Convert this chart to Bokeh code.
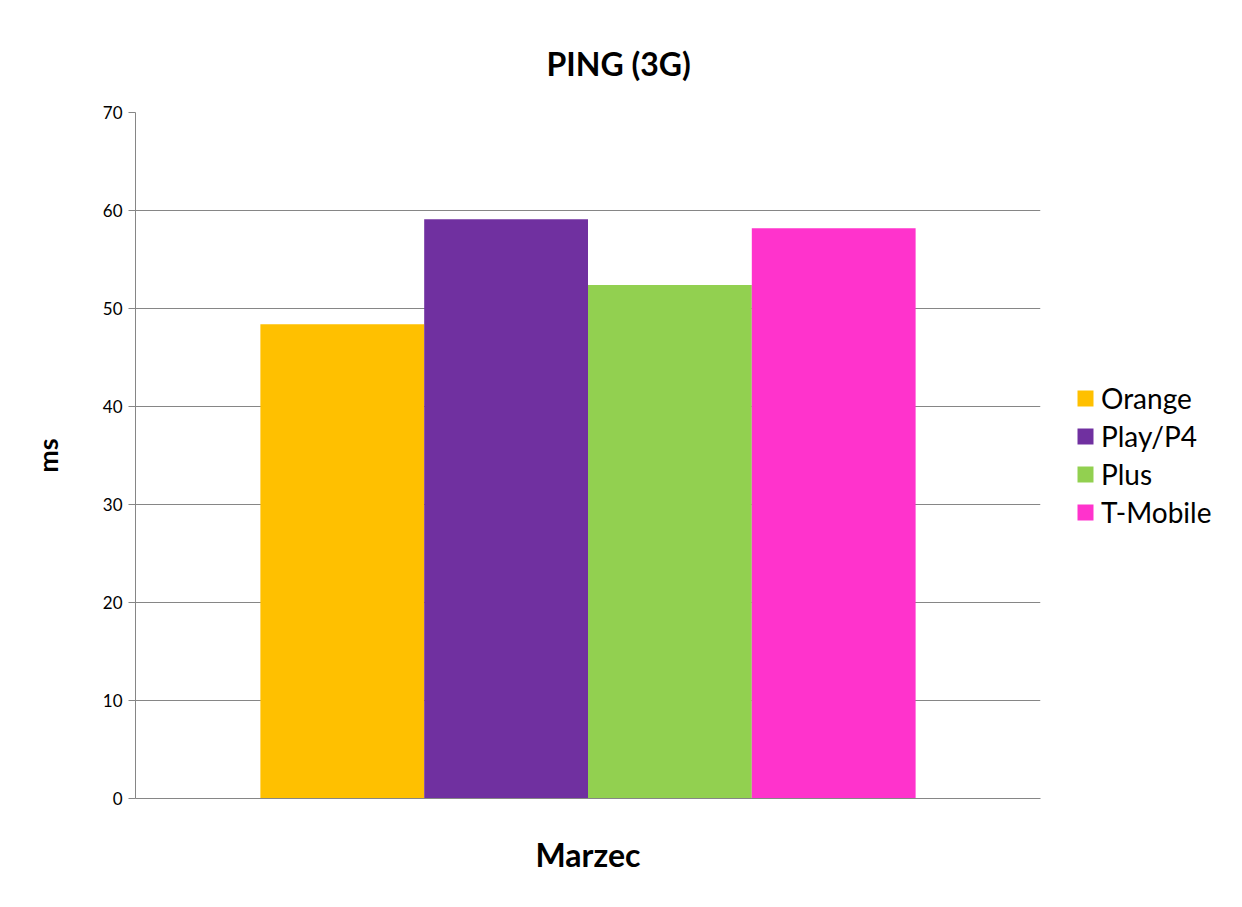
from bokeh.plotting import figure
from bokeh.models import ColumnDataSource, FactorRange, Range1d, Legend, LegendItem, SingleIntervalTicker, Title
from bokeh.transform import dodge
from bokeh.embed import file_html
from bokeh.resources import INLINE

months = ["Marzec"]
operators = ["Orange", "Play/P4", "Plus", "T-Mobile"]
orange = [48.4]
play = [59.1]
plus = [52.4]
tmobile = [58.2]
colors = ["#FFC000", "#7030A0", "#92D050", "#FF33CC"]
series = [orange, play, plus, tmobile]

FONT = "Lato"

p = figure(x_range=FactorRange(factors=months), y_range=Range1d(0, 70),
           frame_width=905, frame_height=686, width=1226, height=890,
           output_backend="svg", toolbar_location=None,
           min_border_left=135, min_border_top=112, min_border_bottom=60, min_border_right=40)
p.outline_line_color = None
p.background_fill_color = "white"

bw = 0.181
offsets = [-1.5 * bw, -0.5 * bw, 0.5 * bw, 1.5 * bw]
items = []
for name, vals, col, off in zip(operators, series, colors, offsets):
    src = ColumnDataSource(dict(x=months, top=vals))
    r = p.vbar(x=dodge("x", off, range=p.x_range), top="top", width=bw, source=src,
               fill_color=col, line_color=None)
    items.append(LegendItem(label=name, renderers=[r]))

legend = Legend(items=items, location="left", border_line_color=None,
                background_fill_alpha=0, label_text_font=FONT,
                label_text_font_size="28px", label_text_color="black",
                glyph_width=20, glyph_height=20,
                spacing=4, margin=35, padding=10, label_standoff=6)
p.add_layout(legend, "right")

title = Title(text="PING (3G)", align="left", offset=411, text_font=FONT,
              text_font_size="32px", text_font_style="bold", text_color="black",
              standoff=59)
p.add_layout(title, "above")

# y axis
p.yaxis.ticker = SingleIntervalTicker(interval=10)
p.yaxis.axis_line_color = "#868686"
p.yaxis.major_tick_line_color = "#868686"
p.yaxis.major_tick_out = 7
p.yaxis.major_tick_in = 0
p.yaxis.minor_tick_line_color = None
p.yaxis.major_label_text_font = FONT
p.yaxis.major_label_text_font_size = "17px"
p.yaxis.major_label_text_color = "black"
p.yaxis.major_label_standoff = 6
p.yaxis.axis_label = "ms"
p.yaxis.axis_label_text_font = FONT
p.yaxis.axis_label_text_font_size = "27px"
p.yaxis.axis_label_text_font_style = "bold"
p.yaxis.axis_label_text_color = "black"
p.yaxis.axis_label_standoff = 36

# x axis
p.xaxis.axis_line_color = "#868686"
p.xaxis.major_tick_line_color = None
p.xaxis.major_tick_out = 0
p.xaxis.major_label_text_font = FONT
p.xaxis.major_label_text_font_size = "32px"
p.xaxis.major_label_text_font_style = "bold"
p.xaxis.major_label_text_color = "black"
p.xaxis.major_label_standoff = 36

p.xgrid.grid_line_color = None
p.ygrid.grid_line_color = "#868686"
p.ygrid.grid_line_width = 1

open("out.html", "w").write(file_html(p, INLINE))
